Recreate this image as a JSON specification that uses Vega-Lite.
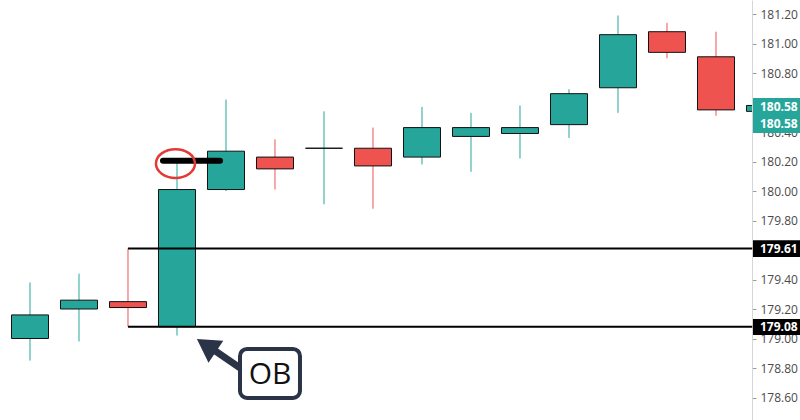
{
  "$schema": "https://vega.github.io/schema/vega-lite/v6.json",
  "width": 752,
  "height": 420,
  "autosize": {"type": "none"},
  "padding": {"left": 0, "top": 0, "right": 48, "bottom": 0},
  "background": "white",
  "config": {
    "view": {"stroke": null},
    "font": "Open Sans",
    "scale": {"continuousPadding": 0},
    "axisY": {"grid": false, "domainColor": "#d6d6d6", "tickColor": "#9a9a9a", "tickSize": 4, "labelPadding": 4, "labelFontSize": 12, "labelColor": "#4a4a4a", "labelFont": "Open Sans"}
  },
  "datasets": {
    "candles": [
      {"i": 0, "open": 179.40, "high": 179.48, "low": 179.05, "close": 179.16},
      {"i": 1, "open": 179.00, "high": 179.38, "low": 178.85, "close": 179.16},
      {"i": 2, "open": 179.20, "high": 179.44, "low": 178.98, "close": 179.26},
      {"i": 3, "open": 179.25, "high": 179.61, "low": 179.08, "close": 179.21},
      {"i": 4, "open": 179.08, "high": 180.21, "low": 179.02, "close": 180.01},
      {"i": 5, "open": 180.01, "high": 180.62, "low": 180.00, "close": 180.27},
      {"i": 6, "open": 180.23, "high": 180.35, "low": 180.01, "close": 180.15},
      {"i": 7, "open": 180.29, "high": 180.54, "low": 179.91, "close": 180.29},
      {"i": 8, "open": 180.29, "high": 180.43, "low": 179.88, "close": 180.17},
      {"i": 9, "open": 180.23, "high": 180.57, "low": 180.18, "close": 180.43},
      {"i": 10, "open": 180.37, "high": 180.53, "low": 180.13, "close": 180.43},
      {"i": 11, "open": 180.39, "high": 180.58, "low": 180.22, "close": 180.43},
      {"i": 12, "open": 180.45, "high": 180.69, "low": 180.36, "close": 180.66},
      {"i": 13, "open": 180.70, "high": 181.19, "low": 180.53, "close": 181.06},
      {"i": 14, "open": 181.08, "high": 181.14, "low": 180.90, "close": 180.94},
      {"i": 15, "open": 180.91, "high": 181.08, "low": 180.51, "close": 180.55},
      {"i": 16, "open": 180.54, "high": 180.58, "low": 180.54, "close": 180.58}
    ],
    "levels": [
      {"price": 179.61, "from": 3, "to": 15.74},
      {"price": 179.08, "from": 3, "to": 15.74}
    ],
    "highlight": [{"from": 3.714, "to": 4.878, "price": 180.205}],
    "circle": [{"i": 3.969, "price": 180.186}],
    "arrow": [{"x1": 5.33, "x2": 4.72, "y1": 178.79, "y2": 178.93}],
    "arrowhead": [{"i": 4.6, "price": 178.954}],
    "obbox": [{"x1": 5.286, "x2": 6.51, "y1": 178.929, "y2": 178.597, "mx": 5.898, "my": 178.753, "label": "OB"}],
    "tags": [
      {"label": "180.58", "kind": "last", "top": 180.63, "bottom": 180.515, "mid": 180.572},
      {"label": "180.58", "kind": "last", "top": 180.515, "bottom": 180.393, "mid": 180.454},
      {"label": "179.61", "kind": "level", "top": 179.667, "bottom": 179.553, "mid": 179.61},
      {"label": "179.08", "kind": "level", "top": 179.132, "bottom": 179.024, "mid": 179.078}
    ]
  },
  "layer": [
    {
      "data": {"name": "candles"},
      "mark": {"type": "rule", "strokeWidth": 1, "clip": true},
      "encoding": {
        "x": {"field": "i", "type": "quantitative", "scale": {"domain": [0.3878, 15.735], "nice": false, "zero": false, "padding": 0}, "axis": null},
        "y": {"field": "low", "type": "quantitative", "scale": {"domain": [178.4475, 181.295], "nice": false, "zero": false},
          "axis": {"orient": "right", "title": null, "values": [178.6, 178.8, 179.0, 179.2, 179.4, 179.8, 180.0, 180.2, 180.4, 180.8, 181.0, 181.2], "format": ".2f"}},
        "y2": {"field": "high"},
        "color": {"condition": {"test": "datum.close >= datum.open", "value": "#26a69a"}, "value": "#ef5350"}
      }
    },
    {
      "data": {"name": "candles"},
      "mark": {"type": "bar", "width": 37, "stroke": "#111111", "strokeWidth": 1, "clip": true, "orient": "vertical"},
      "encoding": {
        "x": {"field": "i", "type": "quantitative", "scale": {"domain": [0.3878, 15.735], "nice": false, "zero": false, "padding": 0}, "axis": null},
        "y": {"field": "open", "type": "quantitative", "scale": {"domain": [178.4475, 181.295], "nice": false, "zero": false},
          "axis": {"orient": "right", "title": null, "values": [178.6, 178.8, 179.0, 179.2, 179.4, 179.8, 180.0, 180.2, 180.4, 180.8, 181.0, 181.2], "format": ".2f"}},
        "y2": {"field": "close"},
        "fill": {"condition": {"test": "datum.close >= datum.open", "value": "#26a69a"}, "value": "#ef5350"}
      }
    },
    {
      "data": {"name": "levels"},
      "mark": {"type": "rule", "color": "#000000", "strokeWidth": 2},
      "encoding": {
        "x": {"field": "from", "type": "quantitative", "scale": {"domain": [0.3878, 15.735], "nice": false, "zero": false, "padding": 0}, "axis": null},
        "x2": {"field": "to"},
        "y": {"field": "price", "type": "quantitative", "scale": {"domain": [178.4475, 181.295], "nice": false, "zero": false},
          "axis": {"orient": "right", "title": null, "values": [178.6, 178.8, 179.0, 179.2, 179.4, 179.8, 180.0, 180.2, 180.4, 180.8, 181.0, 181.2], "format": ".2f"}}
      }
    },
    {
      "data": {"name": "highlight"},
      "mark": {"type": "rule", "color": "#000000", "strokeWidth": 6, "strokeCap": "round"},
      "encoding": {
        "x": {"field": "from", "type": "quantitative", "scale": {"domain": [0.3878, 15.735], "nice": false, "zero": false, "padding": 0}, "axis": null},
        "x2": {"field": "to"},
        "y": {"field": "price", "type": "quantitative", "scale": {"domain": [178.4475, 181.295], "nice": false, "zero": false},
          "axis": {"orient": "right", "title": null, "values": [178.6, 178.8, 179.0, 179.2, 179.4, 179.8, 180.0, 180.2, 180.4, 180.8, 181.0, 181.2], "format": ".2f"}}
      }
    },
    {
      "data": {"name": "circle"},
      "mark": {"type": "point", "shape": "M -1 0 A 1 0.74 0 1 0 1 0 A 1 0.74 0 1 0 -1 0 Z", "size": 1521, "filled": false, "stroke": "#e53935", "strokeWidth": 2.5, "opacity": 1},
      "encoding": {
        "x": {"field": "i", "type": "quantitative", "scale": {"domain": [0.3878, 15.735], "nice": false, "zero": false, "padding": 0}, "axis": null},
        "y": {"field": "price", "type": "quantitative", "scale": {"domain": [178.4475, 181.295], "nice": false, "zero": false},
          "axis": {"orient": "right", "title": null, "values": [178.6, 178.8, 179.0, 179.2, 179.4, 179.8, 180.0, 180.2, 180.4, 180.8, 181.0, 181.2], "format": ".2f"}}
      }
    },
    {
      "data": {"name": "arrow"},
      "mark": {"type": "rule", "color": "#2b3447", "strokeWidth": 7},
      "encoding": {
        "x": {"field": "x1", "type": "quantitative", "scale": {"domain": [0.3878, 15.735], "nice": false, "zero": false, "padding": 0}, "axis": null},
        "x2": {"field": "x2"},
        "y": {"field": "y1", "type": "quantitative", "scale": {"domain": [178.4475, 181.295], "nice": false, "zero": false},
          "axis": {"orient": "right", "title": null, "values": [178.6, 178.8, 179.0, 179.2, 179.4, 179.8, 180.0, 180.2, 180.4, 180.8, 181.0, 181.2], "format": ".2f"}},
        "y2": {"field": "y2"}
      }
    },
    {
      "data": {"name": "arrowhead"},
      "mark": {"type": "point", "shape": "triangle-up", "size": 700, "filled": true, "color": "#2b3447", "opacity": 1, "angle": 304},
      "encoding": {
        "x": {"field": "i", "type": "quantitative", "scale": {"domain": [0.3878, 15.735], "nice": false, "zero": false, "padding": 0}, "axis": null},
        "y": {"field": "price", "type": "quantitative", "scale": {"domain": [178.4475, 181.295], "nice": false, "zero": false},
          "axis": {"orient": "right", "title": null, "values": [178.6, 178.8, 179.0, 179.2, 179.4, 179.8, 180.0, 180.2, 180.4, 180.8, 181.0, 181.2], "format": ".2f"}}
      }
    },
    {
      "data": {"name": "obbox"},
      "mark": {"type": "rect", "fill": "white", "stroke": "#2b3447", "strokeWidth": 4, "cornerRadius": 7},
      "encoding": {
        "x": {"field": "x1", "type": "quantitative", "scale": {"domain": [0.3878, 15.735], "nice": false, "zero": false, "padding": 0}, "axis": null},
        "x2": {"field": "x2"},
        "y": {"field": "y1", "type": "quantitative", "scale": {"domain": [178.4475, 181.295], "nice": false, "zero": false},
          "axis": {"orient": "right", "title": null, "values": [178.6, 178.8, 179.0, 179.2, 179.4, 179.8, 180.0, 180.2, 180.4, 180.8, 181.0, 181.2], "format": ".2f"}},
        "y2": {"field": "y2"}
      }
    },
    {
      "data": {"name": "obbox"},
      "mark": {"type": "text", "fontSize": 30, "color": "#111111", "align": "center", "baseline": "middle", "font": "Open Sans"},
      "encoding": {
        "x": {"field": "mx", "type": "quantitative", "scale": {"domain": [0.3878, 15.735], "nice": false, "zero": false, "padding": 0}, "axis": null},
        "y": {"field": "my", "type": "quantitative", "scale": {"domain": [178.4475, 181.295], "nice": false, "zero": false},
          "axis": {"orient": "right", "title": null, "values": [178.6, 178.8, 179.0, 179.2, 179.4, 179.8, 180.0, 180.2, 180.4, 180.8, 181.0, 181.2], "format": ".2f"}},
        "text": {"field": "label"}
      }
    },
    {
      "data": {"name": "tags"},
      "transform": [{"calculate": "15.755", "as": "tx1"}, {"calculate": "16.75", "as": "tx2"}],
      "mark": {"type": "rect", "clip": false},
      "encoding": {
        "x": {"field": "tx1", "type": "quantitative", "scale": {"domain": [0.3878, 15.735], "nice": false, "zero": false, "padding": 0}, "axis": null},
        "x2": {"field": "tx2"},
        "y": {"field": "top", "type": "quantitative", "scale": {"domain": [178.4475, 181.295], "nice": false, "zero": false},
          "axis": {"orient": "right", "title": null, "values": [178.6, 178.8, 179.0, 179.2, 179.4, 179.8, 180.0, 180.2, 180.4, 180.8, 181.0, 181.2], "format": ".2f"}},
        "y2": {"field": "bottom"},
        "fill": {"condition": {"test": "datum.kind === 'last'", "value": "#26a69a"}, "value": "#000000"}
      }
    },
    {
      "data": {"name": "tags"},
      "transform": [{"calculate": "15.898", "as": "tx"}],
      "mark": {"type": "text", "clip": false, "align": "left", "baseline": "middle", "fontSize": 12, "color": "white", "font": "Open Sans", "fontWeight": "bold"},
      "encoding": {
        "x": {"field": "tx", "type": "quantitative", "scale": {"domain": [0.3878, 15.735], "nice": false, "zero": false, "padding": 0}, "axis": null},
        "y": {"field": "mid", "type": "quantitative", "scale": {"domain": [178.4475, 181.295], "nice": false, "zero": false},
          "axis": {"orient": "right", "title": null, "values": [178.6, 178.8, 179.0, 179.2, 179.4, 179.8, 180.0, 180.2, 180.4, 180.8, 181.0, 181.2], "format": ".2f"}},
        "text": {"field": "label"}
      }
    }
  ]
}
